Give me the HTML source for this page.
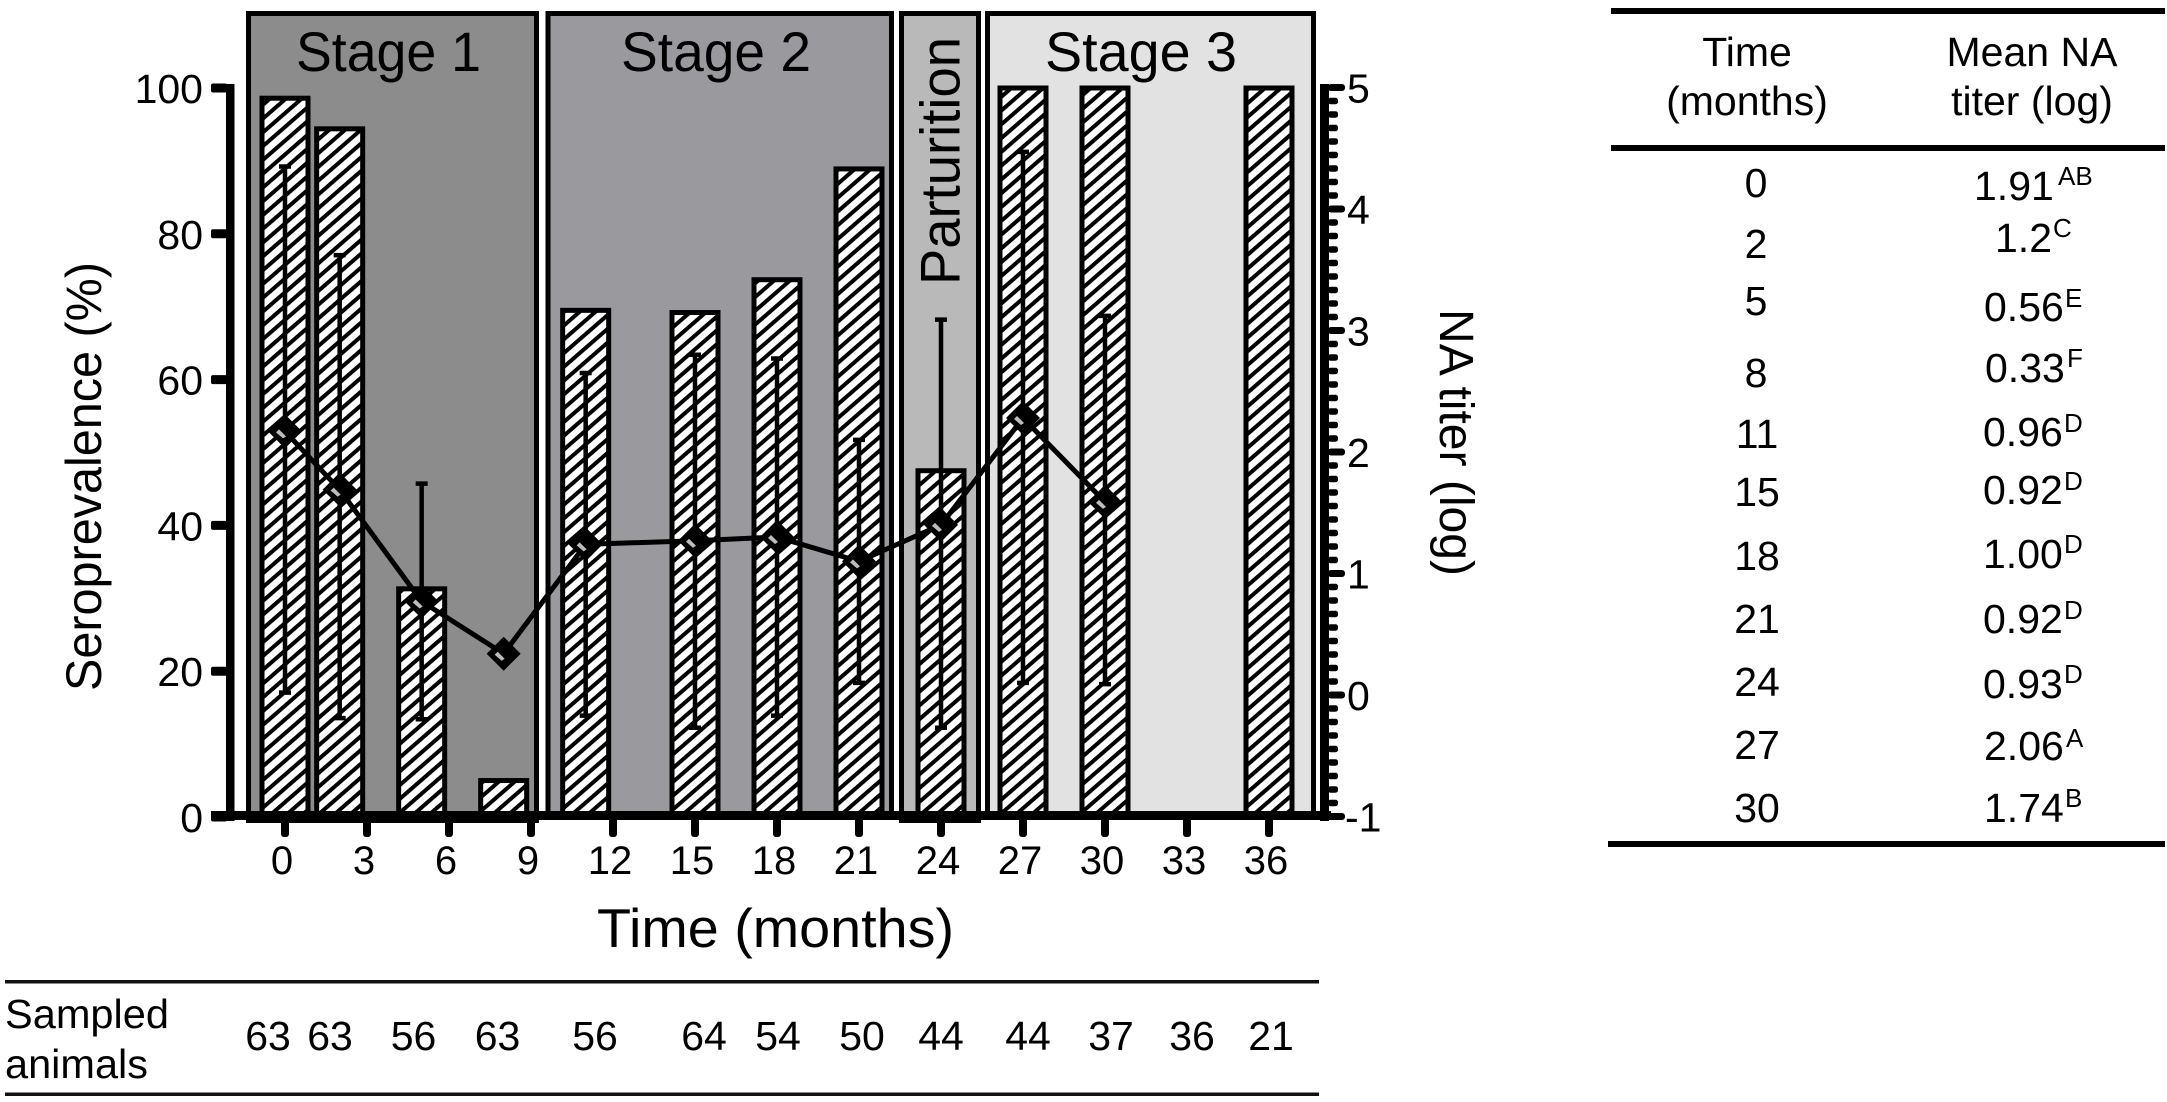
<!DOCTYPE html>
<html lang="en">
<head>
<meta charset="utf-8">
<title>Seroprevalence and NA titer over time</title>
<style>
html,body{margin:0;padding:0;background:#fff;}
svg{display:block;}
text{font-family:"Liberation Sans",sans-serif;fill:#000;}
</style>
</head>
<body>
<svg id="figure" xmlns="http://www.w3.org/2000/svg" width="2167" height="1102" viewBox="0 0 2167 1102">
  <defs>
    <pattern id="hatch" patternUnits="userSpaceOnUse" width="10.4" height="10.4" patternTransform="rotate(49)">
      <rect width="10.4" height="10.4" fill="#fff"/>
      <rect width="4" height="10.4" fill="#000"/>
    </pattern>
  </defs>

  <g stroke="#000" stroke-width="5">
    <rect x="248.5" y="13.5" width="288" height="807" fill="#8c8c8c"/>
    <rect x="548" y="13.5" width="343.5" height="804" fill="#9a9a9e"/>
    <rect x="901.5" y="13.5" width="77" height="807" fill="#b9b9b9"/>
    <rect x="987.5" y="13.5" width="326" height="804" fill="#e2e2e2"/>
  </g>
  <text x="296" y="71" font-size="56" textLength="185" lengthAdjust="spacingAndGlyphs">Stage 1</text>
  <text x="621" y="71" font-size="56" textLength="190" lengthAdjust="spacingAndGlyphs">Stage 2</text>
  <text x="1045" y="71" font-size="56" textLength="192" lengthAdjust="spacingAndGlyphs">Stage 3</text>
  <text transform="translate(959.5,285) rotate(-90)" font-size="56" textLength="248" lengthAdjust="spacingAndGlyphs">Parturition</text>

  <g id="bars"></g>
  <g id="errors"></g>
  <g id="line"></g>
  <g id="axes"></g>

  <text transform="translate(101,691) rotate(-90)" font-size="50" textLength="429" lengthAdjust="spacingAndGlyphs">Seroprevalence (%)</text>
  <text transform="translate(1440,309) rotate(90)" font-size="48" textLength="267" lengthAdjust="spacingAndGlyphs">NA titer (log)</text>
  <text x="597" y="947" font-size="55" textLength="357" lengthAdjust="spacingAndGlyphs">Time (months)</text>

  <g>
    <rect x="5" y="980" width="1314" height="3.5" fill="#111"/>
    <rect x="5" y="1092.5" width="1314" height="3.5" fill="#111"/>
    <text x="5" y="1028" font-size="41" textLength="164" lengthAdjust="spacingAndGlyphs">Sampled</text>
    <text x="5" y="1078" font-size="41" textLength="143" lengthAdjust="spacingAndGlyphs">animals</text>
    <g font-size="41" text-anchor="middle">
      <text x="268" y="1050">63</text>
      <text x="330" y="1050">63</text>
      <text x="413.5" y="1050">56</text>
      <text x="497.5" y="1050">63</text>
      <text x="595" y="1050">56</text>
      <text x="704" y="1050">64</text>
      <text x="778" y="1050">54</text>
      <text x="862" y="1050">50</text>
      <text x="941" y="1050">44</text>
      <text x="1028" y="1050">44</text>
      <text x="1111" y="1050">37</text>
      <text x="1192" y="1050">36</text>
      <text x="1271" y="1050">21</text>
    </g>
  </g>

  <g>
    <rect x="1611" y="8" width="554" height="6" fill="#000"/>
    <rect x="1611" y="145" width="554" height="6" fill="#000"/>
    <rect x="1608" y="841" width="557" height="6" fill="#000"/>
    <g font-size="41" text-anchor="middle">
      <text x="1747" y="66">Time</text>
      <text x="1747" y="115">(months)</text>
      <text x="2032" y="66">Mean NA</text>
      <text x="2032" y="115">titer (log)</text>
    </g>
    <g font-size="41" text-anchor="middle">
      <text x="1756" y="197">0</text>
      <text x="1756" y="258">2</text>
      <text x="1756" y="315">5</text>
      <text x="1756" y="387">8</text>
      <text x="1757" y="448">11</text>
      <text x="1757" y="506">15</text>
      <text x="1757" y="570">18</text>
      <text x="1757" y="633">21</text>
      <text x="1757" y="696">24</text>
      <text x="1757" y="759">27</text>
      <text x="1757" y="822">30</text>
    </g>
    <g font-size="41">
      <text x="1974" y="200">1.91</text>
      <text x="2058" y="185" font-size="26">AB</text>
      <text x="1995" y="252">1.2</text>
      <text x="2053" y="237" font-size="26">C</text>
      <text x="1984" y="321">0.56</text>
      <text x="2065" y="307" font-size="26">E</text>
      <text x="1985" y="382">0.33</text>
      <text x="2067" y="367" font-size="26">F</text>
      <text x="1983" y="446">0.96</text>
      <text x="2064" y="432" font-size="26">D</text>
      <text x="1983" y="504">0.92</text>
      <text x="2064" y="490" font-size="26">D</text>
      <text x="1983" y="568">1.00</text>
      <text x="2064" y="553" font-size="26">D</text>
      <text x="1983" y="633">0.92</text>
      <text x="2064" y="619" font-size="26">D</text>
      <text x="1983" y="698">0.93</text>
      <text x="2064" y="683" font-size="26">D</text>
      <text x="1984" y="760">2.06</text>
      <text x="2066" y="747" font-size="26">A</text>
      <text x="1984" y="822">1.74</text>
      <text x="2065" y="807" font-size="26">B</text>
    </g>
  </g>
</svg>

<script>
// Data
const months = [0, 2, 5, 8, 11, 15, 18, 21, 24, 27, 30, 33, 36];
const seroprevalence = [98.6, 94.4, 31.3, 5.0, 69.5, 69.2, 73.7, 88.9, 47.5, 100, 100, 0, 100];
const titerMean = [2.17, 1.69, 0.77, 0.34, 1.24, 1.27, 1.30, 1.10, 1.40, 2.28, 1.59, null, null];
const titerUpper = [4.35, 3.62, 1.74, null, 2.65, 2.80, 2.77, 2.10, 3.09, 4.47, 3.12, null, null];
const titerLower = [0.02, -0.19, -0.20, null, -0.17, -0.27, -0.17, 0.10, -0.27, 0.10, 0.09, null, null];
const xTicks = [0, 3, 6, 9, 12, 15, 18, 21, 24, 27, 30, 33, 36];
const leftTicks = [0, 20, 40, 60, 80, 100];
const rightTicks = [-1, 0, 1, 2, 3, 4, 5];

// Axis functions
function xScale(t) { return 285 + t * 82 / 3; }
function yLeft(v) { return 817 - v * 7.29; }
function yRight(v) { return 695 - v * 121.5; }

const NS = 'http://www.w3.org/2000/svg';
function make(tag, parent, attrs, txt) {
  const el = document.createElementNS(NS, tag);
  for (const k in attrs) el.setAttribute(k, attrs[k]);
  if (txt !== undefined) el.textContent = txt;
  parent.appendChild(el);
  return el;
}

const barsG = document.getElementById('bars');
const errorsG = document.getElementById('errors');
const lineG = document.getElementById('line');
const axesG = document.getElementById('axes');

// Bars
months.forEach(function (t, i) {
  const top = yLeft(seroprevalence[i]);
  const el = make('rect', barsG, {
    x: xScale(t) - 23, y: top, width: 46, height: Math.max(0, yLeft(0) - top),
    fill: 'url(#hatch)', stroke: '#000', 'stroke-width': 5
  });
  
  
});

// Error bars
months.forEach(function (t, i) {
  if (titerUpper[i] === null) return;
  const x = xScale(t);
  const yu = yRight(titerUpper[i]);
  const yl = yRight(titerLower[i]);
  const el = make('path', errorsG, {
    d: 'M' + x + ' ' + yu + 'V' + yl + 'M' + (x - 6) + ' ' + yu + 'H' + (x + 6) + 'M' + (x - 6) + ' ' + yl + 'H' + (x + 6),
    fill: 'none', stroke: '#000', 'stroke-width': 4.5
  });
  
  
});

// Line and markers
const linePts = [];
months.forEach(function (t, i) {
  if (titerMean[i] !== null) linePts.push(xScale(t) + ',' + yRight(titerMean[i]));
});
const polyline = make('polyline', lineG, { points: linePts.join(' '), fill: 'none', stroke: '#000', 'stroke-width': 5 });


months.forEach(function (t, i) {
  if (titerMean[i] === null) return;
  const x = xScale(t);
  const y = yRight(titerMean[i]);
  const m = make('path', lineG, { d: 'M' + (x - 17) + ' ' + y + 'L' + x + ' ' + (y - 17) + 'L' + (x + 17) + ' ' + y + 'L' + x + ' ' + (y + 17) + 'Z', fill: '#000' });
  
  
  const s = make('path', lineG, { d: 'M' + (x - 9) + ' ' + (y + 1) + 'L' + (x - 6) + ' ' + (y - 2) + 'L' + (x + 1) + ' ' + (y + 5) + 'L' + (x - 2) + ' ' + (y + 7) + 'Z', fill: '#bdbdbd' });
  
  
});

// Left axis
const leftSpine = make('rect', axesG, { x: 226, y: yLeft(100) - 4, width: 8.5, height: yLeft(0) - yLeft(100) + 8, fill: '#000' });


leftTicks.forEach(function (v) {
  const y = yLeft(v);
  const tick = make('rect', axesG, { x: 211, y: y - 4.5, width: 16, height: 9, rx: 2, fill: '#000' });
  
  
  const lab = make('text', axesG, { x: 203, y: y + 15, 'font-size': 41, 'text-anchor': 'end' }, String(v));
  
  
});

// Bottom axis
const bottomAxis = make('rect', axesG, { x: 211, y: 811, width: 1120, height: 9, fill: '#000' });


xTicks.forEach(function (t) {
  const x = xScale(t);
  const tick = make('rect', axesG, { x: x - 4, y: 818, width: 8, height: 19, rx: 3, fill: '#000' });
  
  
  const lab = make('text', axesG, { x: x - 3, y: 874, 'font-size': 40, 'text-anchor': 'middle' }, String(t));
  
  
});

// Right axis
const rightSpine = make('rect', axesG, { x: 1320, y: yRight(5) - 3.5, width: 9, height: yRight(-1) - yRight(5) + 8, fill: '#000' });


rightTicks.forEach(function (v, idx) {
  const y = yRight(v);
  const tick = make('rect', axesG, { x: 1328, y: y - 3.5, width: 17, height: 7, rx: 3, fill: '#000' });
  
  
  const lab = make('text', axesG, { x: v < 0 ? 1345 : 1347, y: y + 15, 'font-size': 41 }, String(v));
  
  
  if (idx < rightTicks.length - 1) {
    for (let k = 1; k < 9; k++) {
      const my = yRight(v + k / 9);
      const minor = make('rect', axesG, { x: 1328, y: my - 3.25, width: 10, height: 6.5, rx: 2.5, fill: '#000' });
      
      
    }
  }
});
</script>
</body>
</html>
